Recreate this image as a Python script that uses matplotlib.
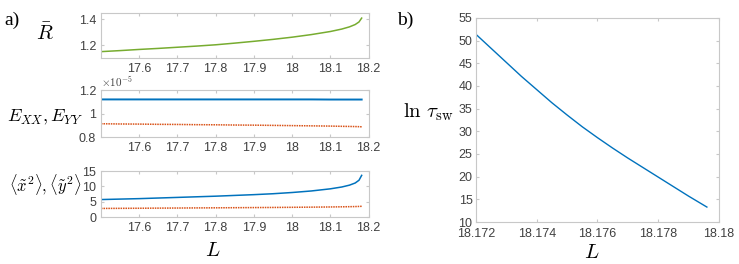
import numpy as np
import matplotlib.pyplot as plt

# Panel a) data
L_a = [17.5, 17.55, 17.6, 17.65, 17.7, 17.75, 17.8, 17.85, 17.9, 17.95, 18.0, 18.05, 18.1,
       18.13, 18.15, 18.165, 18.175, 18.182]
R_bar = [1.150, 1.158, 1.167, 1.175, 1.184, 1.193, 1.203, 1.216, 1.230, 1.245, 1.262,
         1.282, 1.306, 1.325, 1.342, 1.360, 1.380, 1.410]
E_xx = [1.120e-5] * 11 + [1.120e-5, 1.119e-5, 1.119e-5, 1.119e-5, 1.119e-5, 1.119e-5, 1.119e-5]
E_yy = [0.913e-5, 0.911e-5, 0.910e-5, 0.908e-5, 0.907e-5, 0.905e-5, 0.904e-5, 0.902e-5,
        0.901e-5, 0.899e-5, 0.897e-5, 0.895e-5, 0.893e-5, 0.891e-5, 0.890e-5, 0.889e-5,
        0.888e-5, 0.887e-5]
x2 = [5.7, 5.85, 6.0, 6.2, 6.4, 6.6, 6.8, 7.05, 7.3, 7.6, 8.0, 8.5, 9.2, 9.8, 10.4, 11.1,
      12.0, 13.6]
y2 = [2.80, 2.83, 2.86, 2.90, 2.93, 2.97, 3.00, 3.04, 3.08, 3.12, 3.17, 3.22, 3.28, 3.33,
      3.37, 3.41, 3.45, 3.50]

# Panel b) data
L_b = [18.172, 18.1725, 18.173, 18.1735, 18.174, 18.1745, 18.175, 18.1755, 18.176,
       18.1765, 18.177, 18.1775, 18.178, 18.1785, 18.179, 18.1796]
ln_tau = [51.4, 48.3, 45.2, 42.1, 39.2, 36.3, 33.6, 31.0, 28.6, 26.3, 24.1, 22.0, 19.9,
          17.8, 15.7, 13.3]

blue = "#0072BD"
red = "#D95319"
green = "#77AC30"

plt.rcParams["font.family"] = ["Liberation Sans", "DejaVu Sans"]
plt.rcParams["mathtext.fontset"] = "cm"
plt.rcParams["font.size"] = 9
plt.rcParams["axes.edgecolor"] = "#c8c8c8"
plt.rcParams["xtick.color"] = "#c8c8c8"
plt.rcParams["ytick.color"] = "#c8c8c8"
plt.rcParams["xtick.labelcolor"] = "#404040"
plt.rcParams["ytick.labelcolor"] = "#404040"
plt.rcParams["xtick.direction"] = "in"
plt.rcParams["ytick.direction"] = "in"
plt.rcParams["xtick.top"] = True
plt.rcParams["ytick.right"] = True
plt.rcParams["xtick.major.size"] = 2.5
plt.rcParams["ytick.major.size"] = 2.5

fig = plt.figure(figsize=(7.39, 2.64), dpi=100)

ax1 = fig.add_axes([0.1367, 0.780, 0.362, 0.171])
ax2 = fig.add_axes([0.1367, 0.481, 0.362, 0.178])
ax3 = fig.add_axes([0.1367, 0.178, 0.362, 0.174])
ax4 = fig.add_axes([0.644, 0.159, 0.329, 0.773])

ax1.plot(L_a, R_bar, color=green, lw=1.1)
ax1.set_ylim(1.1, 1.45)
ax1.set_yticks([1.2, 1.4])

ax2.plot(L_a, np.array(E_xx) * 1e5, color=blue, lw=1.4)
ax2.plot(L_a, np.array(E_yy) * 1e5, color=red, lw=1.1, ls=(0, (1, 0.6)))
ax2.set_ylim(0.8, 1.2)
ax2.set_yticks([0.8, 1.0, 1.2])
ax2.set_yticklabels(["0.8", "1", "1.2"])
ax2.text(0.0, 1.02, r"$\times10^{-5}$", transform=ax2.transAxes, fontsize=8,
         color="#404040", family="DejaVu Sans", va="bottom")

ax3.plot(L_a, x2, color=blue, lw=1.1)
ax3.plot(L_a, y2, color=red, lw=1.1, ls=(0, (1, 0.6)))
ax3.set_ylim(0, 15)
ax3.set_yticks([0, 5, 10, 15])

for ax in (ax1, ax2, ax3):
    ax.set_xlim(17.5, 18.2)
    ax.set_xticks([17.6, 17.7, 17.8, 17.9, 18.0, 18.1, 18.2])
    ax.set_xticklabels(["17.6", "17.7", "17.8", "17.9", "18", "18.1", "18.2"])

ax4.plot(L_b, ln_tau, color=blue, lw=1.0)
ax4.set_xlim(18.172, 18.18)
ax4.set_ylim(10, 55)
ax4.set_xticks([18.172, 18.174, 18.176, 18.178, 18.18])
ax4.set_xticklabels(["18.172", "18.174", "18.176", "18.178", "18.18"])
ax4.set_yticks(range(10, 56, 5))
ax4.tick_params(axis="x", pad=4.5)
ax4.tick_params(axis="y", pad=2.5)

# labels
fig.text(45 / 739, 1 - 33 / 264, r"$\bar{R}$", fontsize=15, ha="center", va="center")
fig.text(45 / 739, 1 - 117 / 264, r"$E_{XX}, E_{YY}$", fontsize=13, ha="center", va="center")
fig.text(45 / 739, 1 - 185 / 264, r"$\langle\tilde{x}^2\rangle, \langle\tilde{y}^2\rangle$",
         fontsize=12, ha="center", va="center")
fig.text(213 / 739, 1 - 251 / 264, r"$L$", fontsize=15, ha="center", va="center")
fig.text(592 / 739, 1 - 252 / 264, r"$L$", fontsize=15, ha="center", va="center")
fig.text(428 / 739, 1 - 112 / 264, r"$\ln\,\tau_{\rm sw}$", fontsize=15, ha="center", va="center")
fig.text(12 / 739, 1 - 20 / 264, "a)", fontsize=14, family="Liberation Serif",
         ha="center", va="center")
fig.text(405 / 739, 1 - 20 / 264, "b)", fontsize=14, family="Liberation Serif",
         ha="center", va="center")

fig.savefig("out.png", dpi=100)
